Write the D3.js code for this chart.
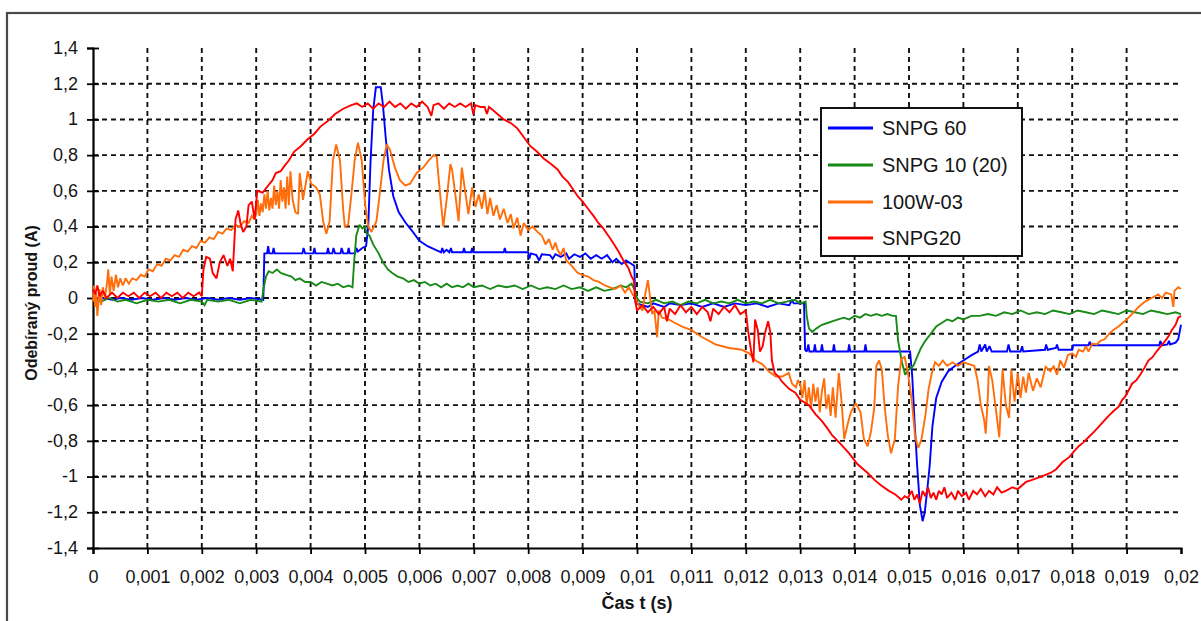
<!DOCTYPE html>
<html>
<head>
<meta charset="utf-8">
<script src="https://cdn.jsdelivr.net/npm/d3@7"></script>
<style>
  html, body { margin: 0; padding: 0; background: #fff; }
  svg { display: block; font-family: "Liberation Sans", Arial, sans-serif; }
</style>
</head>
<body>
<svg id="chart" width="1201" height="621"></svg>
<script>
// Measured supply current of four lamps over one mains period.
// Each point: [time in ms, current in A]

const seriesNames = ["SNPG 60", "SNPG 10 (20)", "100W-03", "SNPG20"];
const seriesColors = ["#0000ff", "#178a17", "#ff6e0a", "#ff0000"];

const xTickValues = [0,0.001,0.002,0.003,0.004,0.005,0.006,0.007,0.008,0.009,0.01,0.011,0.012,0.013,0.014,0.015,0.016,0.017,0.018,0.019,0.02];
const xTickLabels = ["0","0,001","0,002","0,003","0,004","0,005","0,006","0,007","0,008","0,009","0,01","0,011","0,012","0,013","0,014","0,015","0,016","0,017","0,018","0,019","0,02"];
const yTickValues = [1.4,1.2,1,0.8,0.6,0.4,0.2,0,-0.2,-0.4,-0.6,-0.8,-1,-1.2,-1.4];
const yTickLabels = ["1,4","1,2","1","0,8","0,6","0,4","0,2","0","-0,2","-0,4","-0,6","-0,8","-1","-1,2","-1,4"];

const snpg60 = [
[0,0.01],[0.05,-0.01],[0.2,0.0],[0.35,-0.01],[0.5,0.0],[0.7,-0.01],[0.9,0.0],[1.1,-0.01],[1.3,0.0],[1.5,-0.01],[1.7,0.0],[1.9,-0.01],[2.1,0.0],[2.3,-0.01],[2.5,0.0],[2.7,-0.01],[2.9,0.0],[3.13,-0.01],
[3.15,0.25],[3.2,0.25],[3.22,0.29],[3.24,0.25],[3.3,0.25],[3.32,0.28],[3.34,0.25],[3.85,0.25],[3.87,0.28],[3.9,0.25],[4.05,0.25],[4.07,0.28],[4.09,0.25],[4.3,0.25],[4.32,0.28],[4.34,0.25],[4.4,0.25],[4.42,0.28],[4.45,0.25],[4.55,0.25],[4.57,0.28],[4.6,0.25],[4.68,0.25],[4.7,0.28],[4.72,0.25],[4.82,0.25],[4.84,0.28],[4.87,0.26],[4.95,0.28],[5.02,0.29],
[5.06,0.4],[5.1,0.75],[5.15,1.05],[5.2,1.18],[5.29,1.18],[5.33,1.08],[5.38,0.9],[5.44,0.72],[5.52,0.57],[5.62,0.48],[5.75,0.42],[5.88,0.37],[6.0,0.32],[6.15,0.29],[6.3,0.27],
[6.4,0.256],[6.42,0.28],[6.45,0.256],[6.5,0.27],[6.55,0.256],[6.58,0.28],[6.6,0.256],[6.8,0.256],[6.82,0.28],[6.84,0.256],[6.95,0.256],[6.97,0.28],[6.99,0.256],[7.55,0.256],[7.57,0.28],[7.59,0.256],[8.0,0.256],
[8.02,0.22],[8.05,0.25],[8.15,0.24],[8.2,0.21],[8.25,0.245],[8.4,0.24],[8.45,0.22],[8.5,0.245],[8.6,0.23],[8.7,0.25],[8.75,0.22],[8.85,0.245],[8.95,0.23],[9.05,0.25],[9.15,0.22],[9.25,0.24],[9.35,0.22],[9.45,0.24],[9.55,0.2],[9.62,0.22],[9.72,0.19],[9.8,0.21],[9.9,0.19],[9.95,0.18],
[9.97,-0.02],[10.0,-0.03],[10.2,-0.05],[10.3,-0.03],[10.5,-0.05],[10.6,-0.03],[10.8,-0.04],[11.0,-0.03],[11.2,-0.05],[11.4,-0.03],[11.6,-0.05],[11.8,-0.03],[12.0,-0.04],[12.2,-0.03],[12.4,-0.05],[12.6,-0.03],[12.8,-0.04],[12.85,-0.01],[12.88,-0.03],[13.07,-0.03],
[13.09,-0.29],[13.12,-0.3],[13.15,-0.26],[13.17,-0.3],[13.25,-0.3],[13.27,-0.26],[13.29,-0.3],[13.38,-0.3],[13.4,-0.26],[13.42,-0.3],[13.6,-0.3],[13.62,-0.26],[13.64,-0.3],[13.88,-0.3],[13.9,-0.26],[13.92,-0.3],[14.18,-0.3],[14.2,-0.26],[14.22,-0.3],[15.02,-0.3],
[15.06,-0.44],[15.1,-0.68],[15.15,-0.94],[15.2,-1.16],[15.25,-1.25],[15.29,-1.2],[15.33,-1.09],[15.38,-0.94],[15.43,-0.72],[15.5,-0.56],[15.6,-0.47],[15.72,-0.41],[15.85,-0.38],[16.0,-0.35],[16.15,-0.32],[16.27,-0.3],
[16.3,-0.26],[16.33,-0.3],[16.4,-0.26],[16.43,-0.3],[16.48,-0.27],[16.52,-0.3],[16.8,-0.3],[16.83,-0.26],[16.86,-0.3],[17.05,-0.3],[17.08,-0.27],[17.1,-0.3],[17.5,-0.29],[17.52,-0.26],[17.55,-0.29],[17.7,-0.28],[17.72,-0.26],[17.75,-0.29],[18.0,-0.29],
[18.02,-0.265],[18.3,-0.265],[18.32,-0.245],[18.35,-0.265],[19.6,-0.265],[19.62,-0.24],[19.65,-0.265],[19.75,-0.26],[19.78,-0.24],[19.8,-0.26],[19.9,-0.25],[19.95,-0.23],[20.0,-0.15]
];

const snpg10 = [
[0,-0.01],[0.15,-0.02],[0.3,0.0],[0.45,-0.02],[0.6,-0.01],[0.8,-0.03],[1.0,-0.01],[1.2,-0.02],[1.4,-0.01],[1.6,-0.03],[1.8,-0.01],[2.0,-0.02],[2.05,-0.04],[2.1,-0.01],[2.3,-0.02],[2.5,-0.01],[2.7,-0.03],[2.9,-0.01],[3.1,-0.02],
[3.14,0.06],[3.18,0.12],[3.23,0.15],[3.3,0.14],[3.38,0.16],[3.45,0.14],[3.55,0.13],[3.65,0.12],[3.72,0.1],[3.8,0.11],[3.9,0.09],[4.0,0.09],[4.1,0.07],[4.2,0.09],[4.3,0.08],[4.4,0.07],[4.5,0.08],[4.6,0.06],[4.7,0.07],[4.77,0.06],
[4.8,0.2],[4.84,0.35],[4.9,0.41],[4.95,0.39],[5.0,0.4],[5.03,0.36],[5.08,0.35],[5.15,0.3],[5.25,0.25],[5.33,0.2],[5.42,0.16],[5.5,0.14],[5.6,0.12],[5.7,0.11],[5.8,0.09],[5.9,0.1],[6.0,0.08],[6.1,0.09],[6.2,0.07],[6.3,0.08],[6.4,0.06],[6.5,0.08],[6.6,0.06],[6.7,0.07],[6.8,0.06],[6.9,0.08],[7.0,0.06],
[7.15,0.07],[7.3,0.05],[7.45,0.07],[7.6,0.06],[7.75,0.07],[7.9,0.05],[8.05,0.07],[8.2,0.05],[8.35,0.06],[8.5,0.05],[8.65,0.07],[8.8,0.05],[8.95,0.06],[9.1,0.04],[9.25,0.06],[9.4,0.04],[9.55,0.05],[9.7,0.07],[9.8,0.06],[9.9,0.08],[9.95,0.05],
[10.0,0.0],[10.05,-0.02],[10.2,-0.03],[10.35,-0.01],[10.5,-0.03],[10.65,-0.02],[10.8,-0.04],[10.95,-0.02],[11.1,-0.03],[11.25,-0.01],[11.4,-0.03],[11.55,-0.02],[11.7,-0.03],[11.85,-0.01],[12.0,-0.03],[12.15,-0.02],[12.3,-0.03],[12.45,-0.01],[12.6,-0.03],[12.75,-0.02],[12.9,-0.01],[13.0,-0.03],[13.1,-0.02],
[13.12,-0.1],[13.16,-0.17],[13.22,-0.19],[13.3,-0.17],[13.4,-0.15],[13.5,-0.14],[13.6,-0.13],[13.7,-0.12],[13.8,-0.11],[13.9,-0.12],[14.0,-0.1],[14.1,-0.11],[14.2,-0.09],[14.3,-0.1],[14.4,-0.09],[14.5,-0.1],[14.6,-0.09],[14.7,-0.1],[14.76,-0.1],
[14.8,-0.24],[14.87,-0.36],[14.93,-0.43],[15.0,-0.4],[15.08,-0.38],[15.15,-0.33],[15.22,-0.28],[15.3,-0.24],[15.4,-0.2],[15.5,-0.16],[15.6,-0.14],[15.7,-0.12],[15.8,-0.13],[15.9,-0.11],[16.0,-0.12],[16.15,-0.1],[16.3,-0.1],[16.45,-0.09],[16.6,-0.1],[16.75,-0.08],[16.9,-0.09],
[17.05,-0.07],[17.2,-0.09],[17.35,-0.08],[17.5,-0.09],[17.65,-0.07],[17.8,-0.08],[17.95,-0.09],[18.1,-0.07],[18.25,-0.08],[18.4,-0.09],[18.55,-0.07],[18.7,-0.08],[18.85,-0.09],[19.0,-0.07],[19.15,-0.08],[19.3,-0.09],[19.45,-0.07],[19.6,-0.08],[19.75,-0.09],[19.9,-0.08],[20.0,-0.09]
];

const w100 = [
[0,-0.02],[0.02,0.07],[0.04,-0.05],[0.06,0.03],[0.08,-0.1],[0.1,-0.03],[0.12,0.05],[0.15,-0.04],[0.18,0.06],[0.22,0.0],[0.26,0.09],[0.28,0.16],[0.31,0.02],[0.34,0.12],[0.38,0.04],[0.42,0.13],[0.46,0.06],[0.5,0.11],[0.55,0.07],[0.6,0.11],[0.66,0.08],[0.72,0.11],
[0.8,0.1],[0.88,0.13],[0.95,0.12],[1.02,0.16],[1.1,0.15],[1.18,0.19],[1.26,0.18],[1.34,0.22],[1.42,0.21],[1.5,0.24],[1.58,0.23],[1.66,0.27],[1.74,0.26],[1.82,0.29],[1.9,0.28],[1.98,0.32],[2.06,0.31],[2.14,0.34],[2.22,0.33],[2.3,0.37],[2.38,0.36],[2.46,0.39],[2.54,0.38],[2.62,0.41],[2.7,0.4],[2.78,0.43],[2.86,0.42],[2.92,0.46],[2.97,0.44],
[3.0,0.47],[3.03,0.55],[3.06,0.46],[3.09,0.53],[3.12,0.48],[3.15,0.58],[3.18,0.5],[3.21,0.6],[3.24,0.49],[3.27,0.56],[3.3,0.5],[3.33,0.63],[3.36,0.52],[3.39,0.6],[3.42,0.5],[3.45,0.66],[3.48,0.54],[3.51,0.62],[3.54,0.5],[3.57,0.68],[3.6,0.52],[3.63,0.71],[3.67,0.55],
[3.72,0.48],[3.77,0.47],[3.8,0.7],[3.86,0.55],[3.95,0.71],[4.01,0.64],[4.1,0.62],[4.17,0.58],[4.23,0.43],[4.29,0.36],[4.35,0.43],[4.41,0.77],[4.47,0.86],[4.54,0.77],[4.6,0.49],[4.63,0.4],[4.69,0.41],[4.75,0.58],[4.81,0.77],[4.87,0.87],[4.94,0.77],[5.0,0.53],[5.06,0.4],[5.12,0.37],
[5.21,0.43],[5.27,0.58],[5.34,0.77],[5.4,0.86],[5.46,0.83],[5.55,0.73],[5.64,0.66],[5.74,0.63],[5.83,0.64],[5.95,0.7],[6.07,0.73],[6.17,0.77],[6.26,0.8],[6.32,0.79],[6.35,0.68],[6.41,0.49],[6.44,0.4],[6.5,0.55],[6.57,0.75],[6.6,0.72],[6.66,0.58],[6.72,0.43],[6.78,0.73],[6.84,0.6],[6.9,0.47],[6.97,0.62],
[7.03,0.51],[7.09,0.58],[7.15,0.5],[7.2,0.6],[7.25,0.47],[7.3,0.56],[7.36,0.46],[7.42,0.52],[7.48,0.44],[7.55,0.5],[7.62,0.42],[7.68,0.47],[7.73,0.39],[7.8,0.45],[7.86,0.35],[7.92,0.42],[8.0,0.38],[8.08,0.4],[8.17,0.37],[8.25,0.35],[8.32,0.3],[8.38,0.33],[8.45,0.27],[8.5,0.31],[8.54,0.27],[8.6,0.24],[8.65,0.28],[8.7,0.21],
[8.8,0.18],[8.91,0.14],[9.0,0.13],[9.1,0.12],[9.2,0.1],[9.3,0.09],[9.41,0.07],[9.5,0.06],[9.6,0.05],[9.7,0.07],[9.78,0.03],[9.85,0.06],[9.92,0.02],[9.97,0.0],
[10.03,-0.04],[10.1,-0.07],[10.15,0.02],[10.2,0.1],[10.25,-0.02],[10.28,-0.09],[10.32,-0.07],[10.37,-0.22],[10.4,-0.07],[10.46,-0.11],[10.58,-0.12],[10.7,-0.14],[10.83,-0.16],[11.0,-0.18],[11.2,-0.22],[11.44,-0.26],[11.69,-0.28],[11.93,-0.29],[12.06,-0.31],[12.18,-0.35],[12.3,-0.37],[12.42,-0.41],[12.55,-0.44],[12.67,-0.44],[12.79,-0.42],[12.85,-0.48],[12.92,-0.5],[12.96,-0.46],
[13.0,-0.48],[13.04,-0.56],[13.08,-0.46],[13.12,-0.6],[13.16,-0.5],[13.2,-0.62],[13.24,-0.48],[13.28,-0.58],[13.32,-0.5],[13.36,-0.64],[13.4,-0.52],[13.44,-0.45],[13.48,-0.62],[13.52,-0.54],[13.56,-0.66],[13.6,-0.5],[13.65,-0.67],[13.71,-0.42],[13.76,-0.58],[13.81,-0.79],[13.87,-0.71],[13.93,-0.64],
[14.02,-0.59],[14.11,-0.64],[14.17,-0.79],[14.24,-0.83],[14.3,-0.75],[14.36,-0.62],[14.4,-0.38],[14.45,-0.35],[14.5,-0.4],[14.55,-0.6],[14.61,-0.77],[14.67,-0.87],[14.74,-0.79],[14.8,-0.49],[14.86,-0.34],[14.92,-0.33],[14.98,-0.42],[15.05,-0.57],[15.11,-0.77],[15.17,-0.84],[15.23,-0.79],[15.3,-0.66],[15.36,-0.51],[15.42,-0.42],[15.48,-0.36],
[15.55,-0.38],[15.62,-0.35],[15.7,-0.38],[15.8,-0.36],[15.9,-0.38],[16.0,-0.36],[16.1,-0.37],[16.2,-0.38],[16.26,-0.46],[16.32,-0.6],[16.38,-0.68],[16.41,-0.76],[16.45,-0.55],[16.47,-0.38],[16.53,-0.46],[16.6,-0.63],[16.66,-0.78],[16.7,-0.52],[16.72,-0.4],[16.78,-0.6],[16.84,-0.67],[16.88,-0.4],[16.94,-0.58],
[17.0,-0.42],[17.05,-0.56],[17.1,-0.44],[17.15,-0.53],[17.2,-0.42],[17.28,-0.52],[17.35,-0.45],[17.42,-0.5],[17.51,-0.385],[17.6,-0.41],[17.66,-0.38],[17.72,-0.43],[17.78,-0.35],[17.85,-0.39],[17.92,-0.32],[18.0,-0.31],[18.07,-0.33],[18.12,-0.29],[18.2,-0.3],[18.25,-0.27],[18.3,-0.3],[18.37,-0.255],[18.45,-0.26],[18.52,-0.24],[18.6,-0.23],[18.68,-0.2],
[18.75,-0.18],[18.85,-0.16],[18.98,-0.126],[19.1,-0.09],[19.22,-0.05],[19.34,-0.02],[19.46,0.0],[19.58,0.02],[19.65,0.0],[19.72,0.03],[19.82,0.02],[19.86,-0.05],[19.88,0.04],[19.95,0.06],[20.0,0.05]
];

const snpg20 = [
[0,0.05],[0.04,0.02],[0.08,0.07],[0.12,0.01],[0.18,0.04],[0.25,0.0],[0.35,0.03],[0.45,0.0],[0.55,0.03],[0.65,0.01],[0.75,0.03],[0.85,0.0],[0.95,0.03],[1.05,0.01],[1.15,0.03],[1.25,0.0],[1.35,0.03],[1.45,0.01],[1.55,0.03],[1.65,0.0],[1.75,0.03],[1.85,0.01],[1.95,0.03],[2.0,0.01],
[2.03,0.16],[2.08,0.23],[2.15,0.22],[2.2,0.14],[2.27,0.11],[2.33,0.2],[2.4,0.24],[2.47,0.18],[2.52,0.22],[2.57,0.15],[2.62,0.44],[2.67,0.49],[2.71,0.42],[2.76,0.37],[2.82,0.4],[2.86,0.52],[2.92,0.54],[2.97,0.44],[3.02,0.6],[3.12,0.59],[3.22,0.63],[3.3,0.66],[3.36,0.7],[3.45,0.71],[3.52,0.74],[3.6,0.77],[3.7,0.82],[3.82,0.85],[3.95,0.89],[4.07,0.92],[4.18,0.96],[4.31,0.99],[4.45,1.03],[4.6,1.06],[4.75,1.08],
[4.85,1.09],[4.95,1.07],[5.05,1.09],[5.15,1.06],[5.25,1.09],[5.35,1.07],[5.45,1.1],[5.55,1.07],[5.65,1.09],[5.75,1.06],[5.85,1.09],[5.95,1.07],[6.05,1.1],[6.15,1.07],[6.22,1.02],[6.26,1.08],[6.35,1.09],[6.45,1.06],[6.55,1.09],[6.65,1.07],[6.75,1.09],[6.85,1.07],[6.95,1.09],[6.99,1.03],[7.03,1.08],[7.12,1.07],[7.2,1.07],[7.24,1.03],[7.28,1.07],
[7.36,1.05],[7.55,1.0],[7.68,0.98],[7.8,0.95],[7.92,0.9],[8.04,0.85],[8.16,0.82],[8.29,0.78],[8.42,0.75],[8.54,0.72],[8.63,0.68],[8.73,0.65],[8.82,0.61],[8.91,0.57],[9.0,0.54],[9.1,0.5],[9.2,0.46],[9.29,0.42],[9.38,0.39],[9.47,0.35],[9.56,0.31],[9.66,0.26],[9.75,0.21],[9.84,0.17],[9.9,0.12],[9.94,0.1],
[9.97,-0.02],[10.0,-0.07],[10.1,-0.04],[10.2,-0.08],[10.3,-0.05],[10.4,-0.09],[10.5,-0.05],[10.55,-0.13],[10.6,-0.06],[10.7,-0.09],[10.8,-0.04],[10.9,-0.08],[11.0,-0.05],[11.1,-0.09],[11.2,-0.05],[11.3,-0.08],[11.35,-0.13],[11.4,-0.06],[11.5,-0.09],[11.6,-0.05],[11.7,-0.08],[11.8,-0.04],[11.9,-0.09],
[12.0,-0.07],[12.04,-0.18],[12.1,-0.3],[12.14,-0.36],[12.17,-0.12],[12.22,-0.18],[12.26,-0.3],[12.31,-0.27],[12.35,-0.2],[12.41,-0.13],[12.45,-0.19],[12.48,-0.35],[12.53,-0.42],[12.6,-0.44],[12.67,-0.47],[12.8,-0.51],[12.91,-0.53],[13.0,-0.57],[13.16,-0.6],[13.28,-0.65],[13.4,-0.69],[13.5,-0.73],[13.59,-0.77],[13.75,-0.82],[13.9,-0.87],[14.05,-0.93],[14.24,-0.98],[14.37,-1.02],[14.49,-1.05],[14.63,-1.08],[14.75,-1.1],[14.86,-1.13],
[14.92,-1.11],[14.98,-1.12],[15.05,-1.08],[15.1,-1.13],[15.15,-1.1],[15.2,-1.15],[15.25,-1.08],[15.3,-1.11],[15.35,-1.06],[15.4,-1.12],[15.45,-1.09],[15.5,-1.13],[15.55,-1.08],[15.6,-1.1],[15.65,-1.06],[15.7,-1.12],[15.78,-1.09],[15.85,-1.13],[15.9,-1.08],[15.97,-1.11],[16.05,-1.09],[16.1,-1.13],[16.18,-1.08],[16.25,-1.1],[16.32,-1.07],[16.4,-1.11],[16.47,-1.08],[16.55,-1.1],[16.62,-1.06],[16.7,-1.09],[16.78,-1.08],
[16.9,-1.06],[17.0,-1.07],[17.15,-1.03],[17.25,-1.02],[17.34,-1.01],[17.43,-1.0],[17.51,-0.99],[17.6,-0.98],[17.7,-0.96],[17.82,-0.92],[17.95,-0.89],[18.03,-0.86],[18.12,-0.83],[18.2,-0.81],[18.3,-0.78],[18.4,-0.75],[18.49,-0.72],[18.58,-0.69],[18.67,-0.66],[18.77,-0.63],[18.85,-0.61],[18.92,-0.57],[18.98,-0.55],[19.05,-0.51],[19.1,-0.48],[19.18,-0.46],[19.25,-0.43],[19.33,-0.39],[19.4,-0.35],[19.48,-0.33],[19.55,-0.3],[19.63,-0.27],[19.71,-0.24],[19.78,-0.21],[19.83,-0.18],[19.9,-0.15],[19.95,-0.11],[20.0,-0.1]
];

const seriesData = [snpg60, snpg10, w100, snpg20];

// ---- layout ----
const plot = { left: 93, right: 1181, top: 48, bottom: 548 };

const svg = d3.select("#chart");

const x = d3.scaleLinear().domain([0, 0.02]).range([plot.left, plot.right]);
const y = d3.scaleLinear().domain([-1.4, 1.4]).range([plot.bottom, plot.top]);

// outer chart frame (extends past the canvas on the right and bottom)
svg.append("rect")
  .attr("x", 7).attr("y", 13)
  .attr("width", 1230).attr("height", 660)
  .attr("fill", "none").attr("stroke", "#4a4a4a").attr("stroke-width", 2.2);

// dashed grid
const grid = svg.append("g").attr("stroke", "#111").attr("stroke-width", 1.9).attr("stroke-dasharray", "5,4");
grid.selectAll("line.h")
  .data(yTickValues.filter(v => v !== 1.4 && v !== -1.4))
  .join("line")
  .attr("x1", plot.left).attr("x2", plot.right)
  .attr("y1", d => y(d)).attr("y2", d => y(d));
grid.selectAll("line.v")
  .data(xTickValues.filter(v => v !== 0 && v !== 0.02))
  .join("line")
  .attr("x1", d => x(d)).attr("x2", d => x(d))
  .attr("y1", plot.top).attr("y2", plot.bottom);

// y axis with ticks crossing the axis line
const yAxis = svg.append("g")
  .attr("transform", `translate(${plot.left},0)`)
  .call(d3.axisLeft(y).tickValues(yTickValues)
    .tickFormat((d, i) => yTickLabels[i]).tickSize(6).tickPadding(9));
yAxis.selectAll(".tick line").attr("x1", 6).attr("x2", -6).attr("stroke", "#000").attr("stroke-width", 1.8);
yAxis.select(".domain").attr("stroke", "#000").attr("stroke-width", 2.2);
yAxis.selectAll(".tick text")
  .attr("font-size", 18).attr("fill", "#151515")
  .attr("font-family", "'Liberation Sans', Arial, sans-serif")
  .attr("dy", "0.3em");

// x axis
const xAxis = svg.append("g")
  .attr("transform", `translate(0,${plot.bottom})`)
  .call(d3.axisBottom(x).tickValues(xTickValues)
    .tickFormat((d, i) => xTickLabels[i]).tickSize(6).tickPadding(16));
xAxis.selectAll(".tick line").attr("stroke", "#000").attr("stroke-width", 1.8);
xAxis.select(".domain").attr("stroke", "#000").attr("stroke-width", 2.2);
xAxis.selectAll(".tick text")
  .attr("font-size", 18).attr("fill", "#151515")
  .attr("font-family", "'Liberation Sans', Arial, sans-serif");

// axis titles
svg.append("text")
  .attr("x", (plot.left + plot.right) / 2).attr("y", 609)
  .attr("text-anchor", "middle")
  .attr("font-size", 18).attr("font-weight", "bold").attr("fill", "#151515")
  .text("Čas t (s)");

svg.append("text")
  .attr("transform", "translate(37,303) rotate(-90)")
  .attr("text-anchor", "middle")
  .attr("font-size", 16).attr("font-weight", "bold").attr("fill", "#151515")
  .text("Odebíraný proud (A)");

// measured curves
const line = d3.line()
  .x(d => x(d[0] / 1000))
  .y(d => y(d[1]));

svg.append("g").selectAll("path")
  .data(seriesData)
  .join("path")
  .attr("d", d => line(d))
  .attr("fill", "none")
  .attr("stroke", (d, i) => seriesColors[i])
  .attr("stroke-width", 1.9)
  .attr("stroke-linejoin", "miter")
  .attr("stroke-miterlimit", 2);

// legend
const legend = svg.append("g");
legend.append("rect")
  .attr("x", 821).attr("y", 108).attr("width", 201).attr("height", 148)
  .attr("fill", "#fff").attr("stroke", "#111").attr("stroke-width", 2);
const rowY = [128, 165, 202, 238];
const items = legend.selectAll("g.item")
  .data(seriesNames)
  .join("g")
  .attr("transform", (d, i) => `translate(0,${rowY[i]})`);
items.append("line")
  .attr("x1", 828).attr("x2", 873)
  .attr("stroke", (d, i) => seriesColors[i])
  .attr("stroke-width", 3);
items.append("text")
  .attr("x", 882).attr("dy", "0.35em")
  .attr("font-size", 20).attr("fill", "#151515")
  .text(d => d);
</script>
</body>
</html>
